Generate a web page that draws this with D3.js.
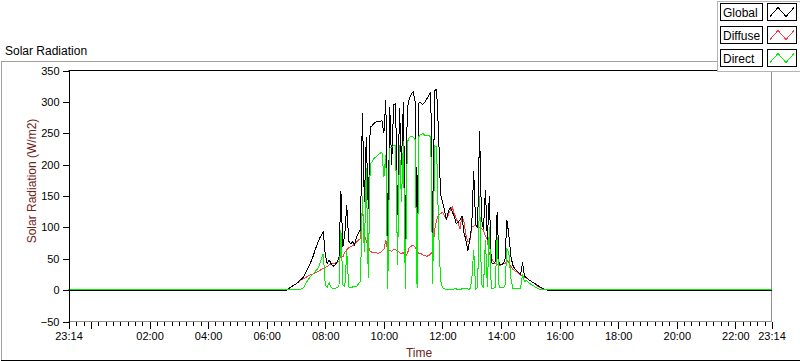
<!DOCTYPE html>
<html><head><meta charset="utf-8">
<script src="https://cdn.jsdelivr.net/npm/d3@7"></script>
<style>
body{margin:0;background:#fff;}
svg{display:block;font-family:"Liberation Sans",Arial,sans-serif;}
</style></head><body>
<svg id="c" width="800" height="361"></svg>
<script>
// ---------- data ----------
const seriesNames = ["Global", "Diffuse", "Direct"];
const seriesColors = ["#000000", "#ff3c3c", "#00ee00"];
const drawOrder = [1, 0, 2];             // Diffuse, Global, Direct (last on top)
const nightLevel = [0, 0, 1.5];          // value outside the sampled daylight window
const chartStart = "23:14";              // day 0 -> same time day 1
const sampleStart = "06:40";             // first daylight sample (day 1)
const sampleStepMin = 4;                 // minutes between samples

const globalValues = [
  0,2,4,6,8,10,12,16,18,22,
  28,35,40,48,56,66,74,82,88,93,
  56,42,48,42,38,40,45,50,158,68,
  90,135,78,74,77,72,85,91,96,282,
  140,244,130,260,262,266,268,268,269,270,
  250,303,60,292,200,295,297,120,290,200,
  300,80,290,305,312,316,300,75,300,298,
  296,300,305,310,316,75,318,320,250,154,
  140,128,112,125,132,125,118,106,108,112,
  118,92,80,62,80,102,190,105,100,254,
  112,98,160,80,150,44,42,45,125,42,
  40,42,48,112,88,55,40,34,31,28,
  25,44,22,20,17,15,13,11,9,7,
  5,3,2,1,0];
const diffuseValues = [
  0,2,4,6,8,10,12,15,17,18,
  20,22,24,25,26,28,29,31,33,35,
  36,38,40,41,42,43,44,46,55,53,
  60,64,68,69,71,73,77,80,82,133,
  88,78,70,62,60,59,61,58,60,62,
  65,80,62,63,62,65,64,62,60,58,
  60,54,58,68,70,72,68,62,58,58,
  56,55,54,55,58,62,96,112,120,122,
  124,118,113,120,127,133,122,115,106,98,
  118,110,88,77,78,100,102,104,100,100,
  98,96,86,80,58,52,46,42,41,40,
  40,42,42,48,44,38,33,31,29,26,
  24,22,21,19,17,15,13,11,8,6,
  4,3,2,1,0];
const directValues = [
  1,1,1,1,1,1,1,1,2,4,
  10,16,20,24,26,30,34,40,50,58,
  8,5,12,4,3,3,4,6,95,8,
  6,62,5,4,5,5,6,10,14,150,
  60,195,20,200,205,210,212,215,218,220,
  180,215,2,226,228,230,231,40,232,140,
  238,2,236,243,245,244,240,3,246,248,
  250,246,247,246,245,10,230,228,100,16,
  4,2,1,1,1,1,2,2,1,1,
  2,2,3,2,1,16,64,2,4,150,
  10,3,80,5,100,3,3,4,85,5,
  4,4,6,65,60,20,3,3,2,2,
  3,25,14,15,12,10,8,6,4,2,
  1,1,1,1,1.5];
const yTicks = [-50, 0, 50, 100, 150, 200, 250, 300, 350];
const xMajorTimes = ["23:14","00:00","02:00","04:00","06:00","08:00","10:00","12:00","14:00","16:00","18:00","20:00","22:00","23:14"];
const xTickLabels = ["23:14","","02:00","04:00","06:00","08:00","10:00","12:00","14:00","16:00","18:00","20:00","22:00","23:14"];

// ---------- helpers ----------
function at(day, hhmm){ const [h,m] = hhmm.split(":").map(Number); return new Date(2020,0,1+day,h,m); }
const t0 = at(0, chartStart), t1 = at(1, chartStart);
const s0 = at(1, sampleStart);
const allValues = [globalValues, diffuseValues, directValues];

const svg = d3.select("#c");
const L = 68.5, R = 771.5, T = 70.5, B = 321.5;
const x = d3.scaleTime().domain([t0, t1]).range([L, R]);
const y = d3.scaleLinear().domain([-50, 350]).range([B, T]);

// outer frame
svg.append("line").attr("x1",1.5).attr("x2",1.5).attr("y1",61.5).attr("y2",360).attr("stroke","#a0a0a0");
svg.append("line").attr("x1",1).attr("x2",760).attr("y1",61.5).attr("y2",61.5).attr("stroke","#a0a0a0");
svg.append("line").attr("x1",1).attr("x2",800).attr("y1",360.5).attr("y2",360.5).attr("stroke","#000");

svg.append("text").attr("x",5).attr("y",55).attr("font-size","12px").attr("fill","#000").text("Solar Radiation");

// plot background + borders
svg.append("rect").attr("x",L).attr("y",T).attr("width",R-L).attr("height",B-T).attr("fill","#fff");
svg.append("line").attr("x1",L).attr("x2",R).attr("y1",T).attr("y2",T).attr("stroke","#000");
svg.append("line").attr("x1",R).attr("x2",R).attr("y1",T).attr("y2",B).attr("stroke","#909090");
svg.append("line").attr("x1",L).attr("x2",R).attr("y1",B).attr("y2",B).attr("stroke","#909090");

// lines
const lineGen = d3.line().x(d => x(d.t)).y(d => y(d.v));
drawOrder.forEach(k => {
  const vals = allValues[k];
  const pts = [{t: t0, v: nightLevel[k]}];
  vals.forEach((v, i) => pts.push({t: new Date(s0.getTime() + i*sampleStepMin*60000), v}));
  pts.push({t: t1, v: nightLevel[k]});
  svg.append("path").datum(pts).attr("d", lineGen)
    .attr("fill","none").attr("stroke", seriesColors[k]).attr("stroke-width",1)
    .attr("shape-rendering","crispEdges");
});

// y axis
const yAx = svg.append("g").attr("transform",`translate(${L},0)`)
  .call(d3.axisLeft(y).tickValues(yTicks).tickSize(6).tickSizeOuter(0).tickPadding(3));
yAx.select(".domain").attr("stroke","#000").attr("shape-rendering","crispEdges");
yAx.selectAll("line").attr("stroke","#000").attr("shape-rendering","crispEdges");
yAx.selectAll("text").attr("font-size","11px").attr("font-family","Liberation Sans, Arial, sans-serif").attr("fill","#000");

// x axis: minor ticks every 15 min
const minorTimes = d3.timeMinute.every(15).range(t0, t1).filter(d => (d - t0) > 5*60000);
const xMinor = svg.append("g").attr("transform",`translate(0,${B})`)
  .call(d3.axisBottom(x).tickValues(minorTimes).tickSize(4).tickFormat(""));
xMinor.select(".domain").remove();
xMinor.selectAll("line").attr("stroke","#000").attr("shape-rendering","crispEdges");

const majorDates = xMajorTimes.map((s, i) => i === 0 ? t0 : (i === xMajorTimes.length-1 ? t1 : at(1, s)));
const xMajor = svg.append("g").attr("transform",`translate(0,${B})`)
  .call(d3.axisBottom(x).tickValues(majorDates).tickSize(7).tickPadding(4)
    .tickFormat((d, i) => xTickLabels[i]));
xMajor.select(".domain").remove();
xMajor.selectAll("line").attr("stroke","#000").attr("shape-rendering","crispEdges");
xMajor.selectAll("text").attr("font-size","11px").attr("font-family","Liberation Sans, Arial, sans-serif").attr("fill","#000");

// axis titles
svg.append("text").attr("transform","translate(36,181) rotate(-90)").attr("text-anchor","middle")
  .attr("font-size","12px").attr("fill","#6e2418")
  .text("Solar Radiation (W/m2)");
svg.append("text").attr("x",419).attr("y",357).attr("text-anchor","middle")
  .attr("font-size","12px").attr("fill","#6e2418").text("Time");

// legend
const lg = svg.append("g");
lg.append("rect").attr("x",717.5).attr("y",1.5).attr("width",90).attr("height",70)
  .attr("fill","#fff").attr("stroke","#b4b4b4");
seriesNames.forEach((name, k) => {
  const oy = 3.5 + k*23;
  lg.append("rect").attr("x",720.5).attr("y",oy).attr("width",42).attr("height",17)
    .attr("fill","#fff").attr("stroke","#000");
  lg.append("text").attr("x",723).attr("y",oy+13).attr("font-size","12px").attr("fill","#000").text(name);
  lg.append("rect").attr("x",767.5).attr("y",oy).attr("width",29).attr("height",17)
    .attr("fill","#fff").attr("stroke","#000");
  lg.append("path").attr("d", `M770,${oy+13}L778,${oy+4}L786,${oy+13}L794,${oy+4}`)
    .attr("fill","none").attr("stroke", seriesColors[k]).attr("shape-rendering","crispEdges");
});
</script>
</body></html>
